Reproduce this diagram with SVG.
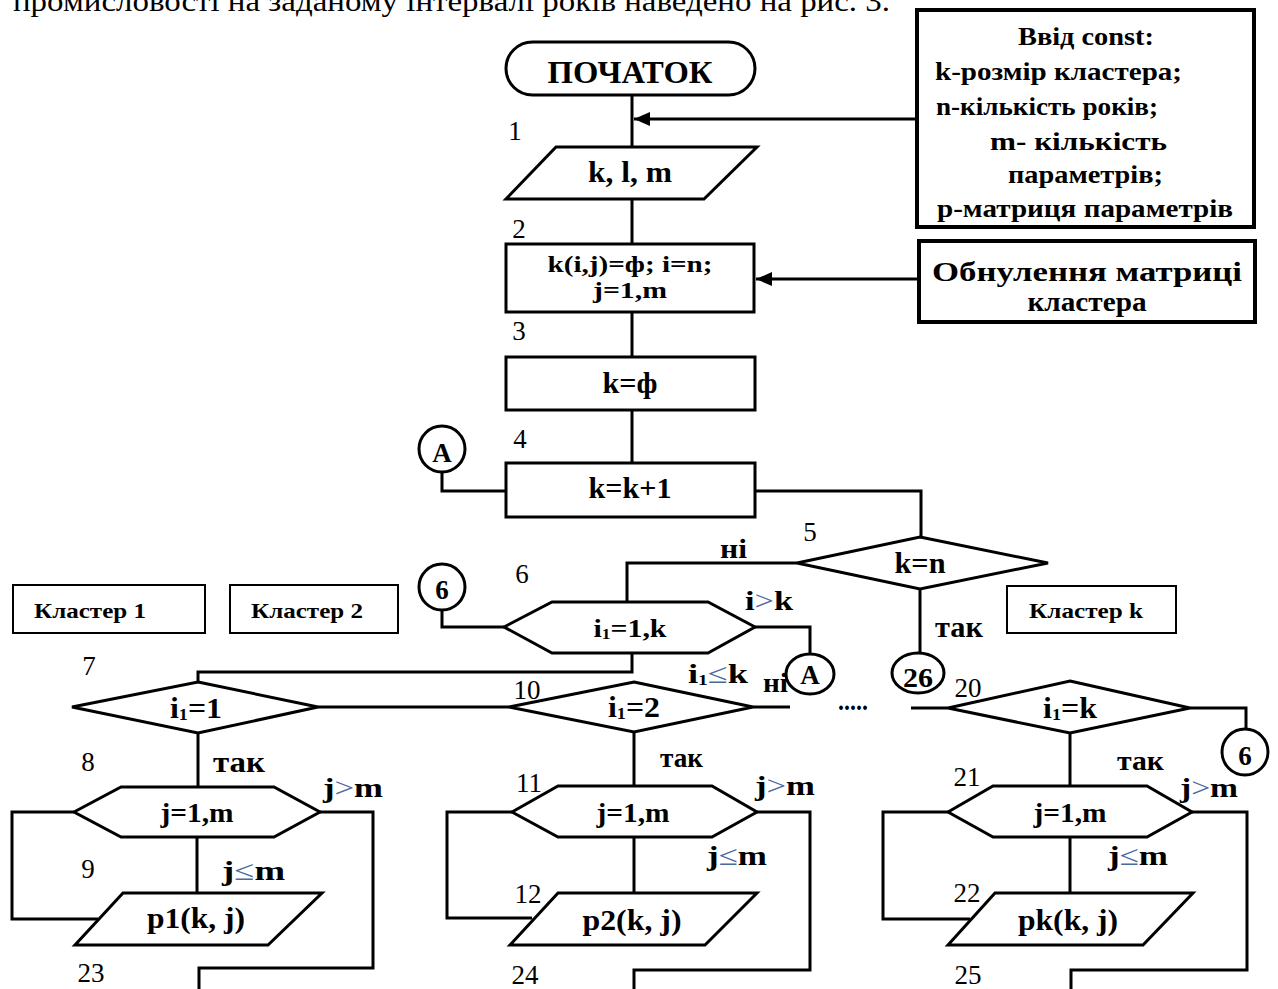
<svg xmlns="http://www.w3.org/2000/svg" width="1278" height="989" viewBox="0 0 1278 989">
<style>
.ln{fill:none;stroke:#000;stroke-width:3}
.sh{fill:#fff;stroke:#000;stroke-width:3}
.bx{fill:#fff;stroke:#000;stroke-width:4}
.cb{fill:#fff;stroke:#000;stroke-width:2}
text{font-family:"Liberation Serif","Times New Roman",serif;fill:#000}
.b{font-weight:bold}
.m{text-anchor:middle}
.n{font-size:27px}
.lt{font-weight:normal;fill:#4a6a9e}
</style>
<defs>
<marker id="ah" viewBox="0 0 16 14" refX="16" refY="7" markerWidth="16" markerHeight="14" markerUnits="userSpaceOnUse" orient="auto">
<path d="M0,0 L16,7 L0,14 Z" fill="#000"/>
</marker>
</defs>
<rect width="1278" height="989" fill="#fff"/>
<text x="13" y="11" font-size="30" textLength="877" lengthAdjust="spacingAndGlyphs">промисловості на заданому інтервалі років наведено на рис. 3.</text>

<g id="connectors">
<path class="ln" d="M632,95 V147"/>
<path class="ln" d="M917,119 H634" marker-end="url(#ah)"/>
<path class="ln" d="M632,199 V244"/>
<path class="ln" d="M919,279 H756" marker-end="url(#ah)"/>
<path class="ln" d="M632,312 V357"/>
<path class="ln" d="M632,410 V463"/>
<path class="ln" d="M442,472 V491 H506"/>
<path class="ln" d="M755,491 H921 V537"/>
<path class="ln" d="M797,563 H627 V602"/>
<path class="ln" d="M920,589 V653"/>
<path class="ln" d="M442,610 V627 H504"/>
<path class="ln" d="M755,627 H810 V654"/>
<path class="ln" d="M632,653 V672 H198 V682"/>
<path class="ln" d="M318,707 H509"/>
<path class="ln" d="M753,707 H790"/>
<path class="ln" d="M911,708 H948"/>
<path class="ln" d="M1190,708 H1246 V729"/>
<path class="ln" d="M198,733 V787"/>
<path class="ln" d="M197,837 V893"/>
<path class="ln" d="M320,812 H373 V968 H199 V989"/>
<path class="ln" d="M74,812 H12 V919 H98"/>
<path class="ln" d="M634,732 V786"/>
<path class="ln" d="M634,837 V893"/>
<path class="ln" d="M757,812 H810 V970 H634 V989"/>
<path class="ln" d="M512,812 H447 V918 H532"/>
<path class="ln" d="M1070,733 V786"/>
<path class="ln" d="M1070,837 V893"/>
<path class="ln" d="M1192,812 H1247 V970 H1071 V989"/>
<path class="ln" d="M948,812 H883 V919 H970"/>
</g>

<g id="start">
<rect class="sh" x="506" y="42" width="249" height="53" rx="26.5"/>
<text class="b m" x="630" y="83" font-size="32" textLength="165" lengthAdjust="spacingAndGlyphs">ПОЧАТОК</text>
</g>
<g id="n1">
<polygon class="sh" points="556,147 757,147 704,199 506,199"/>
<text class="b m" x="630" y="182" font-size="30" textLength="84" lengthAdjust="spacingAndGlyphs">k, l, m</text>
<text class="n m" x="515" y="140">1</text>
</g>
<g id="n2">
<rect class="sh" x="506" y="244" width="248" height="68"/>
<text class="b m" x="630" y="272" font-size="24" textLength="165" lengthAdjust="spacingAndGlyphs">k(i,j)=ф; i=n;</text>
<text class="b m" x="630" y="298" font-size="24" textLength="74" lengthAdjust="spacingAndGlyphs">j=1,m</text>
<text class="n m" x="519" y="238">2</text>
</g>
<g id="n3">
<rect class="sh" x="506" y="357" width="249" height="53"/>
<text class="b m" x="630" y="393" font-size="30" textLength="55" lengthAdjust="spacingAndGlyphs">k=ф</text>
<text class="n m" x="519" y="340">3</text>
</g>
<g id="n4">
<rect class="sh" x="506" y="463" width="249" height="54"/>
<text class="b m" x="630" y="498" font-size="30" textLength="83" lengthAdjust="spacingAndGlyphs">k=k+1</text>
<text class="n m" x="520" y="448">4</text>
</g>
<g id="cA1">
<circle class="sh" cx="442" cy="449" r="23"/>
<text class="b m" x="442" y="462" font-size="27">А</text>
</g>
<g id="n5">
<polygon class="sh" points="920,537 1048,563 920,589 797,563"/>
<text class="b m" x="920" y="573" font-size="30" textLength="51" lengthAdjust="spacingAndGlyphs">k=n</text>
<text class="n m" x="810" y="541">5</text>
<text class="b" x="720" y="558" font-size="28" textLength="27" lengthAdjust="spacingAndGlyphs">ні</text>
<text class="b" x="935" y="637" font-size="30" textLength="48" lengthAdjust="spacingAndGlyphs">так</text>
</g>
<g id="n6">
<polygon class="sh" points="504,627 552,602 708,602 755,627 708,653 552,653"/>
<text class="b m" x="630" y="637" font-size="26" textLength="73" lengthAdjust="spacingAndGlyphs">i<tspan font-size="15" dy="2">1</tspan><tspan dy="-2">=1,k</tspan></text>
<text class="n m" x="522" y="583">6</text>
<text class="b" x="745" y="610" font-size="28" textLength="48" lengthAdjust="spacingAndGlyphs">i<tspan class="lt">&gt;</tspan>k</text>
<text class="b" x="688" y="683" font-size="28" textLength="60" lengthAdjust="spacingAndGlyphs">i<tspan font-size="15" dy="2">1</tspan><tspan class="lt" dy="-2">≤</tspan>k</text>
<text class="b" x="763" y="692" font-size="28" textLength="25" lengthAdjust="spacingAndGlyphs">ні</text>
</g>
<g id="c6a">
<circle class="sh" cx="442" cy="587" r="23"/>
<text class="b m" x="442" y="599" font-size="27">6</text>
</g>
<g id="cA2">
<ellipse class="sh" cx="810" cy="674" rx="24" ry="20"/>
<text class="b m" x="810" y="684" font-size="27">А</text>
</g>
<g id="c26">
<ellipse class="sh" cx="918" cy="673" rx="26" ry="20"/>
<text class="b m" x="918" y="687" font-size="28" textLength="30" lengthAdjust="spacingAndGlyphs">26</text>
</g>
<g id="cl1">
<rect class="cb" x="13" y="585" width="192" height="48"/>
<text class="b m" x="90" y="618" font-size="21" textLength="112" lengthAdjust="spacingAndGlyphs">Кластер  1</text>
</g>
<g id="cl2">
<rect class="cb" x="230" y="585" width="168" height="48"/>
<text class="b m" x="307" y="618" font-size="21" textLength="112" lengthAdjust="spacingAndGlyphs">Кластер  2</text>
</g>
<g id="clk">
<rect class="cb" x="1007" y="586" width="169" height="47"/>
<text class="b m" x="1086" y="618" font-size="21" textLength="114" lengthAdjust="spacingAndGlyphs">Кластер  k</text>
</g>

<g id="n7">
<polygon class="sh" points="198,682 318,707 198,733 72,707"/>
<text class="b m" x="196" y="718" font-size="30" textLength="52" lengthAdjust="spacingAndGlyphs">i<tspan font-size="17" dy="2">1</tspan><tspan dy="-2">=1</tspan></text>
<text class="n m" x="89" y="675">7</text>
</g>
<g id="n8">
<polygon class="sh" points="74,812 121,787 274,787 320,812 274,837 121,837"/>
<text class="b m" x="197" y="822" font-size="27" textLength="73" lengthAdjust="spacingAndGlyphs">j=1,m</text>
<text class="n m" x="88" y="771">8</text>
<text class="b" x="213" y="772" font-size="30" textLength="52" lengthAdjust="spacingAndGlyphs">так</text>
<text class="b" x="323" y="797" font-size="28" textLength="60" lengthAdjust="spacingAndGlyphs">j<tspan class="lt">&gt;</tspan>m</text>
</g>
<g id="n9">
<polygon class="sh" points="123,893 322,893 268,945 75,945"/>
<text class="b m" x="196" y="928" font-size="29" textLength="98" lengthAdjust="spacingAndGlyphs">p1(k, j)</text>
<text class="n m" x="88" y="878">9</text>
<text class="b" x="222" y="880" font-size="28" textLength="63" lengthAdjust="spacingAndGlyphs">j<tspan class="lt">≤</tspan>m</text>
<text class="n m" x="91" y="982">23</text>
</g>

<g id="n10">
<polygon class="sh" points="634,682 753,707 634,732 509,707"/>
<text class="b m" x="634" y="717" font-size="30" textLength="52" lengthAdjust="spacingAndGlyphs">i<tspan font-size="17" dy="2">1</tspan><tspan dy="-2">=2</tspan></text>
<text class="n m" x="527" y="699">10</text>
<text class="b" x="838" y="710" font-size="28" textLength="30" lengthAdjust="spacingAndGlyphs">.....</text>
</g>
<g id="n11">
<polygon class="sh" points="512,812 558,786 712,786 757,812 712,837 558,837"/>
<text class="b m" x="633" y="822" font-size="27" textLength="73" lengthAdjust="spacingAndGlyphs">j=1,m</text>
<text class="n m" x="529" y="792">11</text>
<text class="b" x="660" y="767" font-size="28" textLength="43" lengthAdjust="spacingAndGlyphs">так</text>
<text class="b" x="755" y="795" font-size="28" textLength="60" lengthAdjust="spacingAndGlyphs">j<tspan class="lt">&gt;</tspan>m</text>
</g>
<g id="n12">
<polygon class="sh" points="558,893 757,893 705,945 510,945"/>
<text class="b m" x="632" y="930" font-size="29" textLength="99" lengthAdjust="spacingAndGlyphs">p2(k, j)</text>
<text class="n m" x="528" y="903">12</text>
<text class="b" x="707" y="865" font-size="28" textLength="60" lengthAdjust="spacingAndGlyphs">j<tspan class="lt">≤</tspan>m</text>
<text class="n m" x="525" y="984">24</text>
</g>

<g id="n20">
<polygon class="sh" points="1070,681 1190,708 1070,733 948,708"/>
<text class="b m" x="1070" y="718" font-size="30" textLength="54" lengthAdjust="spacingAndGlyphs">i<tspan font-size="17" dy="2">1</tspan><tspan dy="-2">=k</tspan></text>
<text class="n m" x="968" y="697">20</text>
</g>
<g id="c6b">
<circle class="sh" cx="1245" cy="752" r="23"/>
<text class="b m" x="1245" y="765" font-size="27">6</text>
</g>
<g id="n21">
<polygon class="sh" points="948,812 993,786 1147,786 1192,812 1147,837 993,837"/>
<text class="b m" x="1070" y="822" font-size="27" textLength="73" lengthAdjust="spacingAndGlyphs">j=1,m</text>
<text class="n m" x="967" y="786">21</text>
<text class="b" x="1117" y="770" font-size="28" textLength="47" lengthAdjust="spacingAndGlyphs">так</text>
<text class="b" x="1180" y="797" font-size="28" textLength="58" lengthAdjust="spacingAndGlyphs">j<tspan class="lt">&gt;</tspan>m</text>
</g>
<g id="n22">
<polygon class="sh" points="995,893 1193,893 1143,945 948,945"/>
<text class="b m" x="1068" y="930" font-size="29" textLength="100" lengthAdjust="spacingAndGlyphs">pk(k, j)</text>
<text class="n m" x="967" y="902">22</text>
<text class="b" x="1108" y="865" font-size="28" textLength="60" lengthAdjust="spacingAndGlyphs">j<tspan class="lt">≤</tspan>m</text>
<text class="n m" x="968" y="984">25</text>
</g>

<g id="note1">
<rect class="bx" x="917" y="10" width="337" height="217"/>
<text class="b m" x="1086" y="45" font-size="26" textLength="136" lengthAdjust="spacingAndGlyphs">Ввід const:</text>
<text class="b" x="935" y="80" font-size="26" textLength="247" lengthAdjust="spacingAndGlyphs">k-розмір кластера;</text>
<text class="b" x="936" y="115" font-size="26" textLength="222" lengthAdjust="spacingAndGlyphs">n-кількість років;</text>
<text class="b" x="990" y="150" font-size="26" textLength="177" lengthAdjust="spacingAndGlyphs">m- кількість</text>
<text class="b" x="1008" y="183" font-size="26" textLength="155" lengthAdjust="spacingAndGlyphs">параметрів;</text>
<text class="b" x="937" y="217" font-size="26" textLength="296" lengthAdjust="spacingAndGlyphs">р-матриця параметрів</text>
</g>
<g id="note2">
<rect class="bx" x="919" y="241" width="336" height="81"/>
<text class="b m" x="1087" y="281" font-size="28" textLength="310" lengthAdjust="spacingAndGlyphs">Обнулення матриці</text>
<text class="b m" x="1087" y="311" font-size="28" textLength="119" lengthAdjust="spacingAndGlyphs">кластера</text>
</g>
</svg>
